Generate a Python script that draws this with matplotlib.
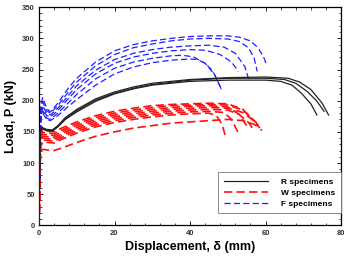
import matplotlib
matplotlib.use("Agg")
import matplotlib.pyplot as plt
from matplotlib.ticker import MultipleLocator

# ---------------- data ----------------
# R specimens (black solid)
r1_x = [0, 0.3, 0.8, 2, 3.5, 5, 7, 10, 15, 20, 25, 30, 40, 50, 60, 64, 67, 69.5, 72, 73.6]
r1_y = [0, 150, 155, 152, 151, 158, 170, 182, 199, 211, 219, 225, 231, 233, 233, 231, 225, 212, 195, 177]
r2_x = [0, 0.3, 0.8, 2, 3.5, 5, 7, 10, 15, 20, 25, 30, 40, 50, 60, 65, 68, 71, 73.5, 75.5]
r2_y = [0, 151, 156, 153, 152, 159, 171, 184, 201, 212, 220, 226, 233, 236, 236, 234, 228, 215, 200, 183]
r3_x = [0, 0.3, 0.8, 2, 3.5, 5, 7, 10, 15, 20, 25, 30, 40, 50, 60, 66, 69, 72, 75, 76.7]
r3_y = [0, 152, 157, 154, 153, 160, 173, 186, 203, 214, 222, 228, 234, 237, 238, 236, 230, 218, 196, 177]

# W specimens (red dashed)
w1_x = [0, 0.4, 1, 2, 4, 6, 10, 15, 20, 25, 30, 35, 40, 45, 50, 54, 57, 58.5]
w1_y = [0, 118, 122, 121, 120, 124, 133, 143, 150, 156, 160, 164, 166, 168, 170, 168, 162, 156]
w2_x = [0, 0.4, 1, 2.5, 4, 6, 10, 15, 20, 25, 30, 35, 40, 45, 47, 48.5, 49.5]
w2_y = [0, 128, 133, 133, 132, 138, 148, 158, 165, 170, 174, 177, 179, 180, 176, 162, 140]
w3_x = [0, 0.4, 1, 2.5, 4, 6, 10, 15, 20, 25, 30, 35, 40, 45, 49, 51, 52.8]
w3_y = [0, 132, 137, 136, 135, 141, 151, 161, 168, 173, 177, 180, 182, 183, 181, 170, 148]
w4_x = [0, 0.4, 1, 2.5, 4, 6, 10, 15, 20, 25, 30, 35, 40, 45, 50, 53, 55.5, 57]
w4_y = [0, 135, 140, 139, 138, 144, 154, 164, 171, 176, 180, 183, 185, 186, 185, 178, 165, 152]
w5_x = [0, 0.4, 1, 2.5, 4, 6, 10, 15, 20, 25, 30, 35, 40, 45, 50, 54, 57, 58.5]
w5_y = [0, 138, 143, 142, 141, 147, 157, 167, 174, 179, 183, 186, 188, 189, 188, 181, 167, 156]
w6_x = [0, 0.4, 1, 2.5, 4, 6, 10, 15, 20, 25, 30, 35, 40, 45, 50, 53, 55]
w6_y = [0, 141, 146, 145, 144, 150, 160, 170, 177, 182, 186, 189, 191, 192, 190, 178, 160]
w7_x = [0, 0.4, 1, 2.5, 4, 6, 10, 15, 20, 25, 30, 35, 40, 45, 50, 54, 57.5, 59]
w7_y = [0, 144, 149, 148, 147, 153, 163, 173, 180, 185, 189, 192, 193, 194, 193, 185, 165, 152]
w8_x = [0, 0.4, 1, 2.5, 4, 6, 10, 15, 20, 25, 30, 35, 40, 45, 50, 54, 57.5]
w8_y = [0, 147, 152, 151, 150, 156, 166, 176, 183, 188, 192, 194, 195, 196, 195, 186, 165]

# F specimens (blue dashed)
f1_x = [0, 0.5, 1, 2, 3, 5, 8, 10, 15, 20, 25, 30, 35, 40, 45, 50, 53, 56, 58, 59.5, 60.3]
f1_y = [0, 195, 205, 188, 182, 196, 222, 236, 262, 280, 290, 296, 300, 303, 304, 304, 302, 296, 285, 270, 257]
f2_x = [0, 0.5, 1, 2, 3, 5, 8, 10, 15, 20, 25, 30, 35, 40, 45, 50, 53, 55.5, 57, 57.8]
f2_y = [0, 190, 198, 184, 180, 192, 216, 230, 256, 274, 285, 291, 296, 299, 300, 299, 295, 285, 268, 247]
f3_x = [0, 0.5, 1, 2, 3, 5, 8, 10, 15, 20, 25, 30, 35, 40, 45, 49, 52, 54.5, 55.6]
f3_y = [0, 185, 192, 180, 177, 188, 210, 224, 249, 266, 276, 282, 286, 288, 289, 286, 276, 255, 233]
f4_x = [0, 0.5, 1, 2, 3, 5, 8, 10, 15, 20, 25, 30, 35, 40, 44, 48, 51, 52.8]
f4_y = [0, 182, 188, 176, 174, 184, 205, 218, 243, 260, 270, 276, 280, 282, 281, 274, 262, 247]
f5_x = [0, 0.5, 1, 2, 3, 5, 8, 10, 15, 20, 25, 30, 35, 38, 41, 44, 46.5, 48.4]
f5_y = [0, 178, 184, 172, 170, 180, 198, 210, 235, 252, 262, 268, 272, 273, 270, 260, 242, 217]
f6_x = [0, 0.5, 1, 2, 3, 5, 8, 10, 15, 20, 25, 30, 35, 40, 42, 44, 46, 48.4]
f6_y = [0, 174, 180, 170, 168, 176, 192, 202, 225, 243, 254, 261, 265, 267, 266, 260, 248, 218]

r_curves = [(r1_x, r1_y), (r2_x, r2_y), (r3_x, r3_y)]
w_curves = [(w1_x, w1_y), (w2_x, w2_y), (w3_x, w3_y), (w4_x, w4_y),
            (w5_x, w5_y), (w6_x, w6_y), (w7_x, w7_y), (w8_x, w8_y)]
f_curves = [(f1_x, f1_y), (f2_x, f2_y), (f3_x, f3_y),
            (f4_x, f4_y), (f5_x, f5_y), (f6_x, f6_y)]

legend_labels = ["R specimens", "W specimens", "F specimens"]

# ---------------- figure ----------------
plt.rcParams['font.family'] = ['Liberation Sans', 'DejaVu Sans']
fig = plt.figure(figsize=(3.46, 2.67), dpi=100)
ax = fig.add_axes([0.1127, 0.156, 0.873, 0.817])

for i, (x, y) in enumerate(f_curves):
    ax.plot(x, y, color='#2020ff', lw=0.9, dashes=(5, 2.5),
            label=legend_labels[2] if i == 0 else None, zorder=2)
for i, (x, y) in enumerate(w_curves):
    ax.plot(x, y, color='#ff1010', lw=1.2, dashes=(5, 2.5),
            label=legend_labels[1] if i == 0 else None, zorder=3)
for i, (x, y) in enumerate(r_curves):
    ax.plot(x, y, color='#222222', lw=0.9,
            label=legend_labels[0] if i == 0 else None, zorder=4)

ax.set_xlim(0, 80)
ax.set_ylim(0, 350)
ax.xaxis.set_major_locator(MultipleLocator(20))
ax.xaxis.set_minor_locator(MultipleLocator(4))
ax.yaxis.set_major_locator(MultipleLocator(50))
ax.yaxis.set_minor_locator(MultipleLocator(10))
ax.tick_params(which='both', direction='in', top=True, right=True,
               labelsize=5.5, labelcolor='#333333', pad=3)
ax.tick_params(which='major', length=3, width=0.6)
ax.tick_params(which='minor', length=1.8, width=0.5)
for lab in ax.get_xticklabels() + ax.get_yticklabels():
    lab.set_fontweight('bold')
for s in ax.spines.values():
    s.set_linewidth(0.9)

ax.set_xlabel("Displacement, δ (mm)", fontsize=9, fontweight='bold', labelpad=3)
ax.set_ylabel("Load, P (kN)", fontsize=9, fontweight='bold', labelpad=4)

handles, labels = ax.get_legend_handles_labels()
order = [labels.index(l) for l in legend_labels]
leg = ax.legend([handles[k] for k in order], [labels[k] for k in order],
                loc='lower right', bbox_to_anchor=(1.0, 0.055),
                prop={'weight': 'bold', 'size': 6},
                fancybox=False, framealpha=1, edgecolor='#777777',
                handlelength=5.2, handletextpad=1.6, borderpad=0.7,
                labelspacing=0.35, borderaxespad=0)
leg.get_frame().set_linewidth(0.6)

fig.savefig("out.png", dpi=100)
